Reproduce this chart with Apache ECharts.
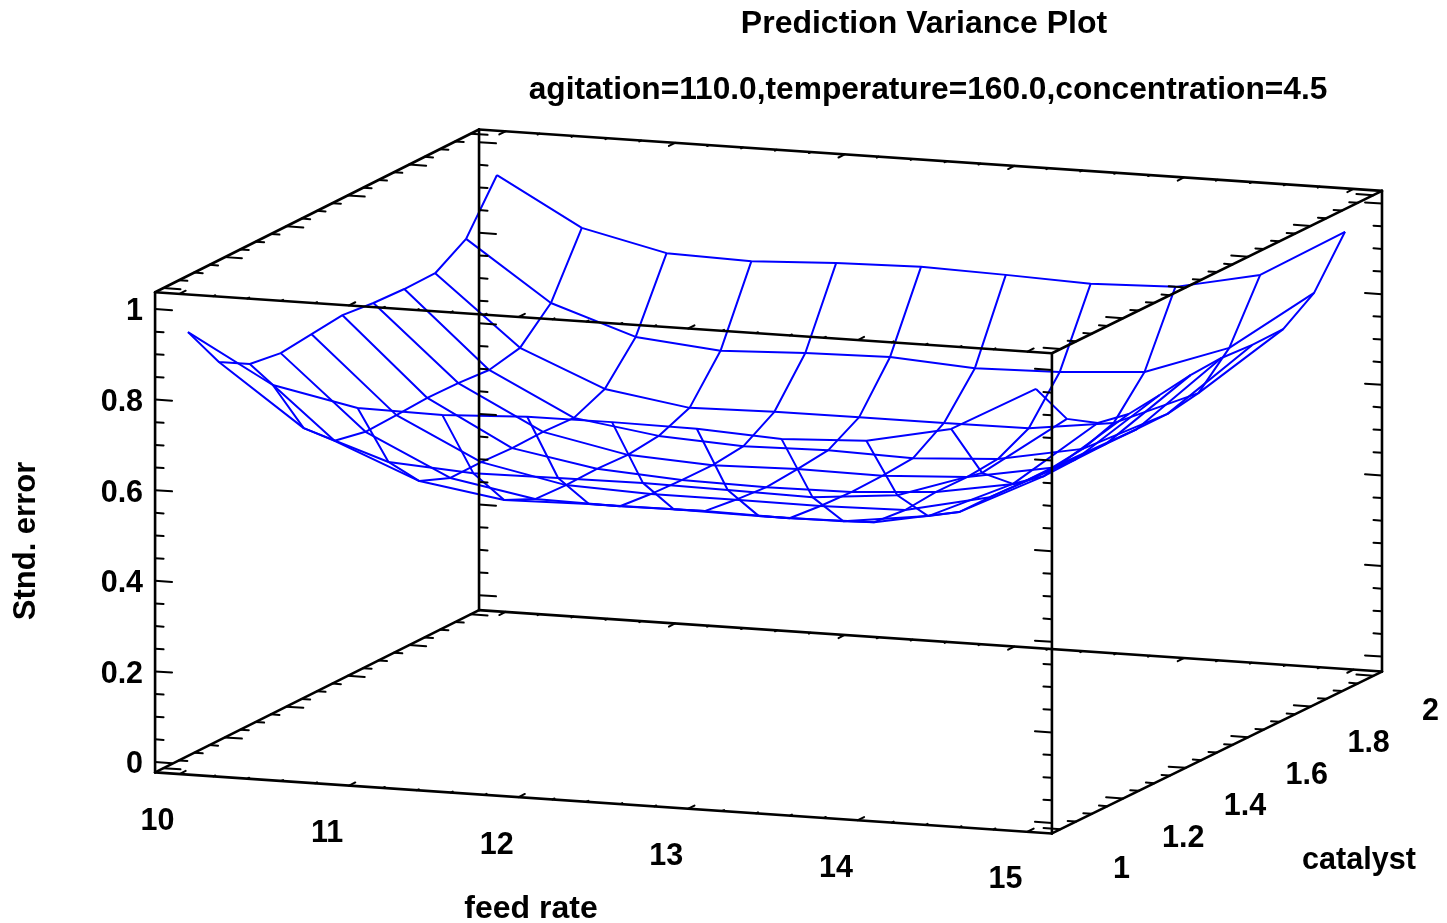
<!DOCTYPE html>
<html>
<head>
<meta charset="utf-8">
<title>Prediction Variance Plot</title>
<style>
html, body { margin: 0; padding: 0; background: #fff; }
#main { width: 1447px; height: 923px; }
</style>
</head>
<body>
<div id="main"></div>
<script src="https://cdn.jsdelivr.net/npm/echarts@6/dist/echarts.min.js"></script>
<script>
// grid of the surface
var feedValues = [10, 10.5, 11, 11.5, 12, 12.5, 13, 13.5, 14, 14.5, 15];
var catalystValues = [1, 1.1, 1.2, 1.3, 1.4, 1.5, 1.6, 1.7, 1.8, 1.9, 2];

// stnd. error along feed rate, one list per catalyst level
var errCat10 = [.943, .839, .801, .798, .807, .808, .806, .796, .805, .844, .945];
var errCat11 = [.842, .709, .647, .635, .637, .639, .636, .633, .650, .712, .844];
var errCat12 = [.803, .646, .570, .541, .545, .546, .544, .545, .569, .653, .800];
var errCat13 = [.792, .631, .542, .508, .505, .507, .504, .508, .543, .635, .785];
var errCat14 = [.799, .633, .542, .504, .497, .497, .496, .500, .541, .636, .792];
var errCat15 = [.806, .636, .538, .505, .493, .490, .492, .505, .537, .636, .801];
var errCat16 = [.798, .634, .539, .501, .491, .495, .493, .503, .536, .634, .804];
var errCat17 = [.794, .628, .535, .508, .498, .502, .497, .508, .543, .633, .798];
var errCat18 = [.794, .642, .564, .535, .539, .540, .540, .541, .565, .644, .798];
var errCat19 = [.835, .706, .644, .626, .634, .638, .626, .630, .643, .709, .843];
var errCat20 = [.941, .837, .794, .789, .798, .802, .797, .790, .796, .835, .943];
var errRows = [errCat10, errCat11, errCat12, errCat13, errCat14, errCat15,
    errCat16, errCat17, errCat18, errCat19, errCat20];

// tick labels
var feedTicks = [10, 11, 12, 13, 14, 15];
var catalystTicks = [1, 1.2, 1.4, 1.6, 1.8, 2];
var errTicks = [0, 0.2, 0.4, 0.6, 0.8, 1];

// limits of the box drawn round the surface
var frameFeedFront = [9.856, 15.144];
var frameFeedBack = [9.844, 15.168];
var frameCat = [0.9725, 2.0275];
var frameErrFront = [-0.023, 1.037];
var frameErrBack = [-0.033, 1.028];

// fixed view of the 3d box
function project(f, c, z) {
    return [
        188 + (f - 10) * 169.6 + (c - 1) * 309,
        759.3 + (f - 10) * 11.54 - (c - 1) * 158 - z * 453
    ];
}

function corner(fi, ci, zi) {
    return [
        (ci == 0 ? frameFeedFront : frameFeedBack)[fi],
        frameCat[ci],
        (ci == 0 ? frameErrFront : frameErrBack)[zi]
    ];
}

function mix(a, b, t) {
    return [a[0] + (b[0] - a[0]) * t, a[1] + (b[1] - a[1]) * t, a[2] + (b[2] - a[2]) * t];
}

var segments = [];
function addSeg(a, b, width) {
    var p = project(a[0], a[1], a[2]);
    var q = project(b[0], b[1], b[2]);
    segments.push([p[0], p[1], q[0], q[1], width]);
}

// box edges
var i, j, k;
for (i = 0; i < 2; i++) {
    for (j = 0; j < 2; j++) {
        addSeg(corner(0, i, j), corner(1, i, j), 2.6);
        addSeg(corner(i, 0, j), corner(i, 1, j), 2.6);
        addSeg(corner(i, j, 0), corner(i, j, 1), 2.6);
    }
}

// ticks on the box edges
for (i = 0; i < 2; i++) {
    var fDir = i == 0 ? 1 : -1;
    for (j = 0; j < 2; j++) {
        // catalyst edges
        for (k = 0; k <= 20; k++) {
            var cv = 1 + k * 0.05;
            var t = (cv - frameCat[0]) / (frameCat[1] - frameCat[0]);
            var a = mix(corner(i, 0, j), corner(i, 1, j), t);
            var len = k % 4 == 0 ? 0.1 : 0.05;
            addSeg(a, [a[0] + fDir * len, a[1], a[2]], 2);
        }
        // stnd. error edges
        for (k = 0; k <= 20; k++) {
            var zv = k * 0.05;
            var az = corner(i, j, 0);
            var lenZ = k % 4 == 0 ? 0.1 : 0.05;
            addSeg([az[0], az[1], zv], [az[0] + fDir * lenZ, az[1], zv], 2);
        }
        // feed rate edges, very short
        var cDir = i == 0 ? 1 : -1;
        for (k = 0; k <= 25; k++) {
            var fv = 10 + k * 0.2;
            var fr = i == 0 ? frameFeedFront : frameFeedBack;
            var tf = (fv - fr[0]) / (fr[1] - fr[0]);
            var af = mix(corner(0, i, j), corner(1, i, j), tf);
            var lenF = k % 5 == 0 ? 0.02 : 0.006;
            addSeg(af, [af[0], af[1] + cDir * lenF, af[2]], 2);
        }
    }
}

// texts
var texts = [];
function addText(p, dx, dy, text, align) {
    texts.push({ value: [p[0] + dx, p[1] + dy], text: text, align: align, rot: 0, size: 30.5 });
}
feedTicks.forEach(function (v) {
    addText(project(v, frameCat[0], frameErrFront[0]), -22, 48, String(v), 'center');
});
catalystTicks.forEach(function (v) {
    addText(project(frameFeedFront[1], v, frameErrFront[0]), 61, 41, String(v), 'center');
});
errTicks.forEach(function (v) {
    addText(project(frameFeedFront[0], frameCat[0], v), -12, 3, String(v), 'right');
});
texts.push({ value: [531, 909], text: 'feed rate', align: 'center', rot: 0, size: 32 });
texts.push({ value: [1359, 861], text: 'catalyst', align: 'center', rot: 0, size: 30.6 });
texts.push({ value: [26, 541], text: 'Stnd. error', align: 'center', rot: Math.PI / 2, size: 31 });

var FONT = 'Liberation Sans';

var series = [];
// constant catalyst lines
errRows.forEach(function (row, r) {
    series.push({
        type: 'line',
        data: row.map(function (z, n) { return project(feedValues[n], catalystValues[r], z); })
    });
});
// constant feed rate lines
feedValues.forEach(function (f, n) {
    series.push({
        type: 'line',
        data: errRows.map(function (row, r) { return project(f, catalystValues[r], row[n]); })
    });
});
series.forEach(function (s) {
    s.symbol = 'none';
    s.silent = true;
    s.animation = false;
    s.z = 2;
    s.lineStyle = { color: '#0000ff', width: 2 };
});

series.push({
    type: 'custom',
    silent: true,
    animation: false,
    z: 3,
    data: segments,
    renderItem: function (params, api) {
        var p = api.coord([api.value(0), api.value(1)]);
        var q = api.coord([api.value(2), api.value(3)]);
        return {
            type: 'line',
            shape: { x1: p[0], y1: p[1], x2: q[0], y2: q[1] },
            style: { stroke: '#000', lineWidth: api.value(4), lineCap: 'round' }
        };
    }
});

series.push({
    type: 'custom',
    silent: true,
    animation: false,
    z: 4,
    clip: false,
    data: texts.map(function (d) { return d.value; }),
    renderItem: function (params, api) {
        var d = texts[params.dataIndex];
        var p = api.coord([api.value(0), api.value(1)]);
        return {
            type: 'text',
            x: p[0],
            y: p[1],
            rotation: d.rot,
            style: {
                text: d.text,
                align: d.align,
                verticalAlign: 'middle',
                fill: '#000',
                font: 'bold ' + d.size + 'px "' + FONT + '"'
            }
        };
    }
});

var myChart = echarts.init(document.getElementById('main'));
var option = {
    backgroundColor: '#fff',
    animation: false,
    title: [
        {
            text: 'Prediction Variance Plot',
            left: 919,
            top: 3,
            textAlign: 'center',
            textStyle: { fontFamily: FONT, fontWeight: 'bold', fontSize: 32, color: '#000' }
        },
        {
            text: 'agitation=110.0,temperature=160.0,concentration=4.5',
            left: 923,
            top: 69,
            textAlign: 'center',
            textStyle: { fontFamily: FONT, fontWeight: 'bold', fontSize: 31.7, color: '#000' }
        }
    ],
    grid: { left: 0, right: 0, top: 0, bottom: 0 },
    xAxis: { type: 'value', min: 0, max: 1447, show: false },
    yAxis: { type: 'value', min: 0, max: 923, inverse: true, show: false },
    series: series
};
myChart.setOption(option);
</script>
</body>
</html>
